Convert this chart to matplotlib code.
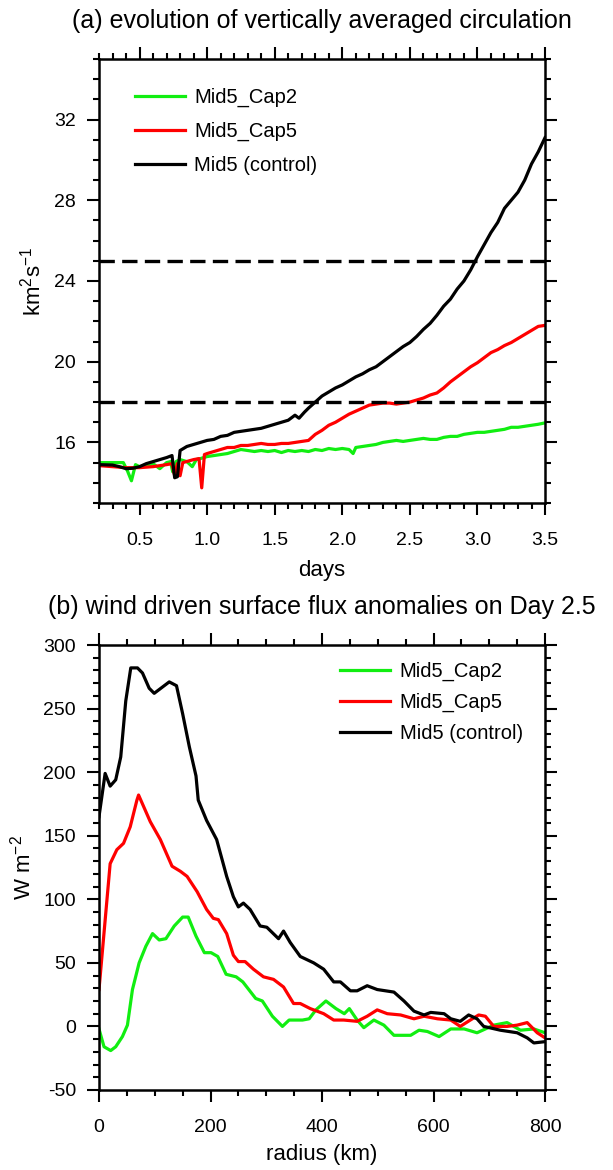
import matplotlib
matplotlib.use('Agg')
import matplotlib.pyplot as plt
from matplotlib.ticker import MultipleLocator

plt.rcParams['font.family'] = ['Liberation Sans', 'DejaVu Sans']
plt.rcParams['mathtext.default'] = 'regular'
plt.rcParams['axes.unicode_minus'] = False

labels = ['Mid5_Cap2', 'Mid5_Cap5', 'Mid5 (control)']
colors = ['#11ee11', '#ff0000', '#000000']

# (a) vertically averaged circulation, km^2 s^-1, against time in days
cap2_days = [0.20, 0.30, 0.38, 0.41, 0.44, 0.47, 0.50, 0.55, 0.60, 0.65, 0.70, 0.73,
             0.745, 0.77, 0.80, 0.85, 0.89, 0.92, 0.95, 1.00, 1.05, 1.10, 1.15, 1.20,
             1.25, 1.30, 1.35, 1.40, 1.45, 1.50, 1.55, 1.60, 1.65, 1.70, 1.75, 1.80,
             1.85, 1.90, 1.95, 2.00, 2.05, 2.08, 2.10, 2.15, 2.20, 2.25, 2.30, 2.35,
             2.40, 2.45, 2.50, 2.55, 2.60, 2.65, 2.70, 2.75, 2.80, 2.85, 2.90, 2.95,
             3.00, 3.05, 3.10, 3.15, 3.20, 3.25, 3.30, 3.35, 3.40, 3.45, 3.50]
cap2_circ = [15.0, 15.0, 15.0, 14.6, 14.1, 14.9, 14.8, 14.85, 14.95, 14.7, 15.0, 15.05,
             14.55, 15.05, 15.15, 15.05, 14.8, 15.15, 15.2, 15.3, 15.35, 15.4, 15.45, 15.55,
             15.65, 15.6, 15.55, 15.6, 15.55, 15.6, 15.5, 15.6, 15.55, 15.6, 15.55, 15.65,
             15.6, 15.7, 15.65, 15.7, 15.65, 15.45, 15.75, 15.8, 15.85, 15.9, 16.0, 16.05,
             16.1, 16.05, 16.1, 16.15, 16.2, 16.15, 16.15, 16.25, 16.3, 16.3, 16.4, 16.45,
             16.5, 16.5, 16.55, 16.6, 16.65, 16.75, 16.75, 16.8, 16.85, 16.9, 16.97]

cap5_days = [0.20, 0.30, 0.40, 0.50, 0.60, 0.70, 0.74, 0.76, 0.78, 0.80, 0.82, 0.90,
             0.94, 0.96, 0.98, 1.00, 1.05, 1.10, 1.15, 1.20, 1.25, 1.30, 1.35, 1.40,
             1.45, 1.50, 1.55, 1.60, 1.65, 1.70, 1.75, 1.80, 1.85, 1.90, 1.95, 2.00,
             2.05, 2.10, 2.15, 2.20, 2.25, 2.30, 2.35, 2.40, 2.45, 2.50, 2.55, 2.60,
             2.65, 2.70, 2.75, 2.80, 2.85, 2.90, 2.95, 3.00, 3.05, 3.10, 3.15, 3.20,
             3.25, 3.30, 3.35, 3.40, 3.45, 3.50]
cap5_circ = [14.85, 14.8, 14.75, 14.75, 14.8, 14.9, 14.95, 14.35, 14.95, 14.35, 15.0, 15.15,
             15.2, 13.75, 15.4, 15.45, 15.55, 15.65, 15.75, 15.75, 15.85, 15.85, 15.9, 15.95,
             15.9, 15.9, 15.95, 15.95, 16.0, 16.05, 16.1, 16.4, 16.6, 16.85, 17.0, 17.2,
             17.4, 17.55, 17.7, 17.85, 17.9, 17.95, 17.95, 17.9, 17.95, 18.0, 18.1, 18.2,
             18.35, 18.45, 18.7, 19.0, 19.25, 19.5, 19.75, 19.95, 20.2, 20.45, 20.6, 20.8,
             20.95, 21.15, 21.35, 21.55, 21.75, 21.8]

ctrl_days = [0.20, 0.30, 0.35, 0.40, 0.45, 0.50, 0.55, 0.60, 0.65, 0.70, 0.74, 0.76,
             0.78, 0.80, 0.85, 0.90, 0.95, 1.00, 1.05, 1.10, 1.15, 1.20, 1.25, 1.30,
             1.35, 1.40, 1.45, 1.50, 1.55, 1.60, 1.65, 1.68, 1.72, 1.75, 1.80, 1.85,
             1.90, 1.95, 2.00, 2.05, 2.10, 2.15, 2.20, 2.25, 2.30, 2.35, 2.40, 2.45,
             2.50, 2.55, 2.60, 2.65, 2.70, 2.75, 2.80, 2.85, 2.90, 2.95, 3.00, 3.05,
             3.10, 3.15, 3.20, 3.25, 3.30, 3.35, 3.40, 3.45, 3.50]
ctrl_circ = [14.9, 14.88, 14.8, 14.7, 14.72, 14.8, 14.95, 15.05, 15.15, 15.25, 15.35, 14.25,
             14.3, 15.6, 15.8, 15.9, 16.0, 16.1, 16.15, 16.3, 16.35, 16.5, 16.55, 16.6,
             16.65, 16.7, 16.8, 16.9, 17.0, 17.1, 17.35, 17.2, 17.5, 17.7, 18.0, 18.3,
             18.5, 18.7, 18.85, 19.05, 19.25, 19.4, 19.6, 19.75, 20.0, 20.25, 20.5, 20.75,
             20.95, 21.25, 21.6, 21.9, 22.3, 22.75, 23.1, 23.6, 24.0, 24.55, 25.2, 25.8,
             26.4, 26.9, 27.6, 28.0, 28.4, 29.0, 29.8, 30.4, 31.1]

thresholds = [25, 18]

# (b) wind driven surface flux anomalies on day 2.5, W m^-2, against radius in km
cap2_rad = [0, 9, 21, 30, 42, 51, 60, 72, 84, 96, 108, 120, 135, 150, 160, 174, 189,
            201, 213, 228, 246, 258, 281, 293, 311, 329, 341, 365, 377, 389, 407, 425,
            440, 449, 463, 475, 493, 511, 529, 559, 574, 589, 610, 631, 655, 678, 708,
            732, 756, 780, 800]
cap2_flux = [-2, -16, -19, -16, -8, 1, 29, 50, 63, 73, 68, 69, 79, 86, 86, 71, 58,
             58, 55, 41, 39, 35, 22, 20, 8, 0, 5, 5, 6, 13, 20, 14,
             10, 14, 5, -1, 5, 1, -7, -7, -3, -4, -8, -2, -2, -5, 1,
             3, -3, -2, -5]

cap5_rad = [0, 20, 32, 44, 56, 68, 71, 92, 110, 131, 146, 158, 176, 193, 205, 214,
            229, 241, 250, 262, 277, 295, 313, 331, 349, 361, 379, 403, 421, 439, 463,
            481, 499, 517, 541, 565, 583, 607, 631, 648, 666, 681, 693, 708, 732, 750,
            768, 786, 800]
cap5_flux = [29, 128, 139, 144, 157, 178, 182, 161, 147, 126, 122, 118, 106, 92, 85, 84,
             73, 56, 51, 51, 45, 39, 37, 31, 18, 18, 14, 10, 5, 5, 4,
             8, 13, 10, 9, 6, 8, 6, 5, 0, 5, 9, 8, 0, 0, 1,
             3, -5, -9]

ctrl_rad = [0, 11, 20, 30, 39, 48, 57, 69, 78, 90, 99, 111, 126, 139, 150, 162, 174,
            178, 193, 211, 229, 241, 250, 259, 271, 289, 301, 322, 331, 343, 361, 385,
            403, 421, 433, 451, 463, 481, 499, 529, 547, 565, 583, 595, 619, 631, 648,
            663, 678, 690, 720, 750, 768, 780, 800]
ctrl_flux = [165, 199, 189, 194, 212, 256, 282, 282, 278, 266, 262, 266, 271, 268, 246, 220, 197,
             178, 162, 147, 118, 102, 94, 97, 92, 79, 78, 69, 75, 66, 55, 50,
             45, 35, 35, 28, 28, 32, 29, 27, 20, 12, 9, 11, 10, 6, 4,
             9, 6, 0, -3, -5, -9, -13, -12]


def style_axes(ax):
    # outward ticks on all four sides, labels only on left and bottom
    ax.tick_params(which='both', direction='out', top=True, right=True,
                   width=1.5, labelsize=14)
    ax.tick_params(axis='x', pad=12.5)
    ax.tick_params(axis='y', pad=8)
    ax.tick_params(which='major', length=8.5)
    ax.tick_params(which='minor', length=4.3)
    for sp in ax.spines.values():
        sp.set_linewidth(1.8)


fig = plt.figure(figsize=(6.13, 11.7), dpi=100)
ax1 = fig.add_axes([0.1615, 0.5701, 0.7276, 0.3795])
ax2 = fig.add_axes([0.1615, 0.0684, 0.7276, 0.3803])

# panel (a)
for d, v, c, lab in zip([cap2_days, cap5_days, ctrl_days],
                        [cap2_circ, cap5_circ, ctrl_circ], colors, labels):
    ax1.plot(d, v, color=c, lw=2.3, label=lab)
for t in thresholds:
    ax1.axhline(t, color='black', lw=2.4, ls=(0, (4.6, 2.2)))
ax1.set_xlim(0.2, 3.5)
ax1.set_ylim(13, 35)
ax1.xaxis.set_major_locator(MultipleLocator(0.5))
ax1.xaxis.set_minor_locator(MultipleLocator(0.1))
ax1.yaxis.set_major_locator(MultipleLocator(4))
ax1.yaxis.set_minor_locator(MultipleLocator(1))
ax1.xaxis.set_major_formatter(plt.FormatStrFormatter('%.1f'))
style_axes(ax1)
ax1.set_xlabel('days', fontsize=16, labelpad=8)
ax1.set_ylabel(r'km$^2$s$^{-1}$', fontsize=16, labelpad=6)
ax1.set_title('(a) evolution of vertically averaged circulation', fontsize=18, pad=22)
ax1.legend(loc='upper left', bbox_to_anchor=(0.04, 0.975), frameon=False,
           fontsize=14.5, handlelength=2.5, handletextpad=0.45, labelspacing=0.72)

# panel (b)
for r, v, c, lab in zip([cap2_rad, cap5_rad, ctrl_rad],
                        [cap2_flux, cap5_flux, ctrl_flux], colors, labels):
    ax2.plot(r, v, color=c, lw=2.3, label=lab)
ax2.set_xlim(0, 800)
ax2.set_ylim(-50, 300)
ax2.xaxis.set_major_locator(MultipleLocator(200))
ax2.xaxis.set_minor_locator(MultipleLocator(50))
ax2.yaxis.set_major_locator(MultipleLocator(50))
ax2.yaxis.set_minor_locator(MultipleLocator(10))
style_axes(ax2)
ax2.set_xlabel('radius (km)', fontsize=16, labelpad=6)
ax2.set_ylabel(r'W m$^{-2}$', fontsize=16, labelpad=6)
ax2.set_title('(b) wind driven surface flux anomalies on Day 2.5', fontsize=18, pad=22)
ax2.legend(loc='upper left', bbox_to_anchor=(0.5, 1.003), frameon=False,
           fontsize=14.5, handlelength=2.5, handletextpad=0.45, labelspacing=0.6)

fig.savefig('out.png', dpi=100)
